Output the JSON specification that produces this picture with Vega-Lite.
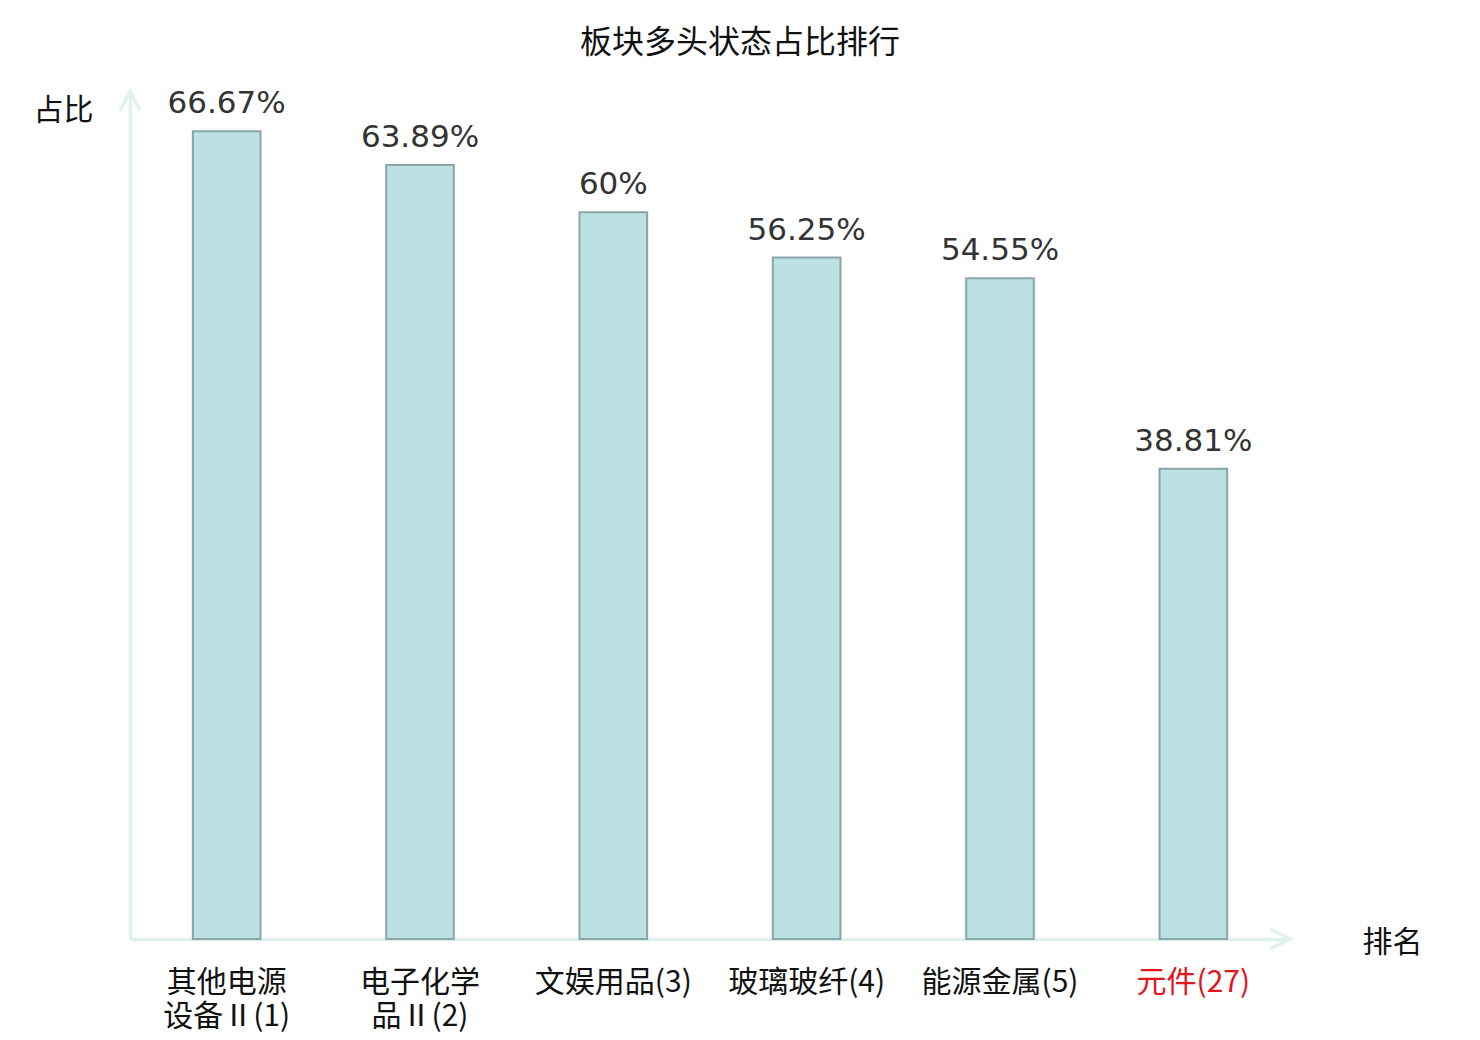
{
  "$schema": "https://vega.github.io/schema/vega-lite/v6.json",
  "width": 1160,
  "height": 848,
  "autosize": "none",
  "padding": {"left": 130, "top": 91, "right": 190, "bottom": 101},
  "background": "white",
  "title": {
    "text": "板块多头状态占比排行",
    "font": "Noto Sans CJK SC",
    "fontSize": 32,
    "fontWeight": "normal",
    "color": "#111111",
    "anchor": "middle",
    "dx": 30,
    "offset": -8,
    "baseline": "bottom"
  },
  "config": {
    "view": {"stroke": null},
    "axis": {"grid": false}
  },
  "datasets": {
    "bars": [
      {"name": "其他电源|设备Ⅱ(1)", "value": 66.67, "label": "66.67%"},
      {"name": "电子化学|品Ⅱ(2)", "value": 63.89, "label": "63.89%"},
      {"name": "文娱用品(3)", "value": 60, "label": "60%"},
      {"name": "玻璃玻纤(4)", "value": 56.25, "label": "56.25%"},
      {"name": "能源金属(5)", "value": 54.55, "label": "54.55%"},
      {"name": "元件(27)", "value": 38.81, "label": "38.81%"}
    ],
    "arrows": [
      {"ax": 0, "ay": 70, "dir": "up"},
      {"ax": 1, "ay": 0, "dir": "right"}
    ]
  },
  "layer": [
    {
      "data": {"name": "bars"},
      "encoding": {
        "x": {
          "field": "name",
          "type": "nominal",
          "sort": null,
          "scale": {"paddingInner": 0.65, "paddingOuter": 0.325},
          "axis": {
            "title": "排名",
            "titleFont": "Noto Sans CJK SC",
            "titleFontSize": 30,
            "titleFontWeight": "normal",
            "titleColor": "#111111",
            "titleAngle": 0,
            "titleAlign": "center",
            "titleBaseline": "middle",
            "titleX": 1262,
            "titleY": 3,
            "labelExpr": "split(datum.label, '|')",
            "labelAngle": 0,
            "labelFont": "Noto Sans CJK SC",
            "labelFontSize": 30,
            "labelLineHeight": 34,
            "labelPadding": 28,
            "labelColor": {"condition": {"test": "datum.value === '元件(27)'", "value": "#e3141b"}, "value": "#111111"},
            "ticks": false,
            "tickSize": 0,
            "domainColor": "#dff2ef",
            "domainWidth": 3.5
          }
        },
        "y": {
          "field": "value",
          "type": "quantitative",
          "scale": {"domain": [0, 70], "nice": false},
          "axis": {
            "title": "占比",
            "titleFont": "Noto Sans CJK SC",
            "titleFontSize": 30,
            "titleFontWeight": "normal",
            "titleColor": "#111111",
            "titleAngle": 0,
            "titleAlign": "center",
            "titleBaseline": "middle",
            "titleX": -67,
            "titleY": 19,
            "labels": false,
            "ticks": false,
            "domainColor": "#dff2ef",
            "domainWidth": 3.5
          }
        }
      },
      "layer": [
        {
          "mark": {"type": "bar", "fill": "#bde0e3", "stroke": "#8aa6a9", "strokeWidth": 2}
        },
        {
          "mark": {"type": "text", "font": "DejaVu Sans", "fontSize": 31, "color": "#333333", "baseline": "alphabetic", "dy": -18},
          "encoding": {
            "text": {"field": "label", "type": "nominal"}
          }
        }
      ]
    },
    {
      "data": {"name": "arrows"},
      "mark": {"type": "point", "filled": false, "stroke": "#dff2ef", "strokeWidth": 3.5, "size": 400, "opacity": 1},
      "encoding": {
        "x": {"field": "ax", "type": "quantitative", "scale": {"domain": [0, 1], "nice": false, "zero": false}, "axis": null},
        "y": {"field": "ay", "type": "quantitative"},
        "shape": {
          "field": "dir",
          "type": "nominal",
          "scale": {"domain": ["up", "right"], "range": ["M-1,2L0,0L1,2", "M-2,-1L0,0L-2,1"]},
          "legend": null
        }
      }
    }
  ],
  "resolve": {"scale": {"x": "independent"}}
}
